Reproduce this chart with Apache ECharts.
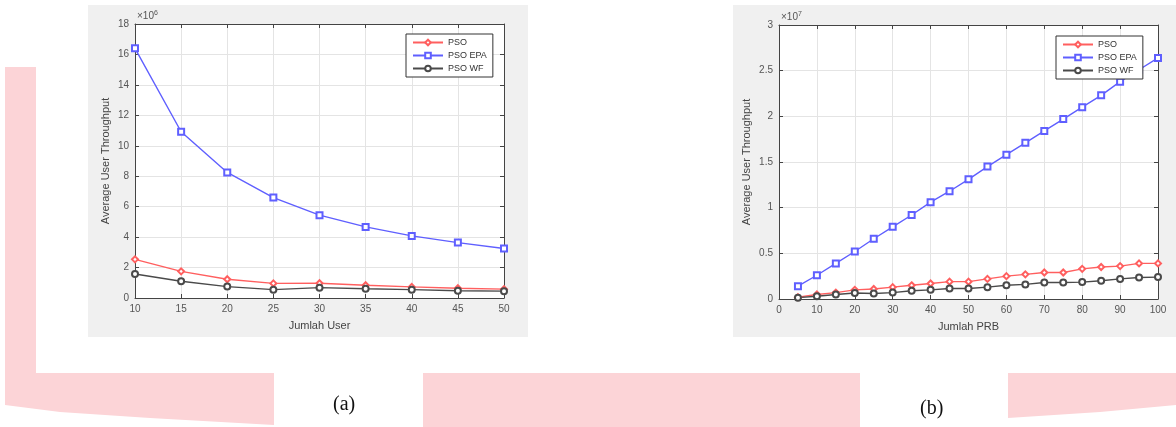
<!DOCTYPE html>
<html><head><meta charset="utf-8">
<script src="https://cdn.jsdelivr.net/npm/echarts@6/dist/echarts.min.js"></script>
<style>html,body{margin:0;padding:0;background:#fff}#c{width:1176px;height:427px}</style>
</head><body><div id="c"></div>
<script>
// Chart (a): values in units of 1e6
const usersA = [10, 15, 20, 25, 30, 35, 40, 45, 50];
const psoA = [2.54, 1.75, 1.23, 0.96, 0.97, 0.84, 0.73, 0.64, 0.58];
const epaA = [16.4, 10.92, 8.25, 6.6, 5.44, 4.67, 4.08, 3.64, 3.25];
const wfA  = [1.58, 1.1, 0.75, 0.55, 0.68, 0.61, 0.55, 0.48, 0.45];
// Chart (b): values in units of 1e7
const prbB = [5,10,15,20,25,30,35,40,45,50,55,60,65,70,75,80,85,90,95,100];
const psoB = [0.02,0.05,0.07,0.10,0.11,0.13,0.15,0.17,0.19,0.19,0.22,0.25,0.27,0.29,0.29,0.33,0.35,0.36,0.39,0.39];
const epaB = [0.14,0.26,0.39,0.52,0.66,0.79,0.92,1.06,1.18,1.31,1.45,1.58,1.71,1.84,1.97,2.10,2.23,2.38,2.51,2.64];
const wfB  = [0.015,0.03,0.05,0.065,0.06,0.07,0.09,0.10,0.115,0.115,0.13,0.15,0.16,0.18,0.18,0.185,0.20,0.22,0.235,0.24];
const seriesNames = ['PSO', 'PSO EPA', 'PSO WF'];
const yTicksA = {min: 0, max: 18, interval: 2};
const yTicksB = {min: 0, max: 3, interval: 0.5};
const xTicksA = {min: 10, max: 50, interval: 5};
const xTicksB = {min: 0, max: 100, interval: 10};

const colors = ['#ff5f5f', '#5f5fff', '#4a4a4a'];
const symbols = ['emptyDiamond', 'emptyRect', 'emptyCircle'];
const pink = '#fcd4d7';
const font = 'Liberation Sans, Arial, sans-serif';
const tickColor = '#555';

function pairs(xs, ys) { return xs.map((x, i) => [x, ys[i]]); }

const chart = echarts.init(document.getElementById('c'));

function mainX(grid, t, name) {
  return {gridIndex: grid, type: 'value', min: t.min, max: t.max, interval: t.interval,
    name: name, nameLocation: 'middle', nameGap: 22,
    nameTextStyle: {fontSize: 11, color: '#444', fontFamily: font},
    axisLine: {show: true, onZero: false, lineStyle: {color: '#444', width: 1}},
    axisTick: {show: true, inside: true, length: 4, lineStyle: {color: '#444'}},
    axisLabel: {fontSize: 10, color: tickColor, fontFamily: font, margin: 6},
    splitLine: {show: true, lineStyle: {color: '#e4e4e4', width: 1}}};
}
function topX(grid, t) {
  return {gridIndex: grid, type: 'value', position: 'top', min: t.min, max: t.max, interval: t.interval,
    axisLine: {show: true, onZero: false, lineStyle: {color: '#444', width: 1}},
    axisTick: {show: true, inside: true, length: 4, lineStyle: {color: '#444'}},
    axisLabel: {show: false}, splitLine: {show: false}};
}
function mainY(grid, t, gap) {
  return {gridIndex: grid, type: 'value', min: t.min, max: t.max, interval: t.interval,
    name: 'Average User Throughput', nameLocation: 'middle', nameGap: gap,
    nameTextStyle: {fontSize: 11, color: '#444', fontFamily: font},
    axisLine: {show: true, onZero: false, lineStyle: {color: '#444', width: 1}},
    axisTick: {show: true, inside: true, length: 4, lineStyle: {color: '#444'}},
    axisLabel: {fontSize: 10, color: tickColor, fontFamily: font, margin: 6},
    splitLine: {show: true, lineStyle: {color: '#e4e4e4', width: 1}}};
}
function rightY(grid, t) {
  return {gridIndex: grid, type: 'value', position: 'right', min: t.min, max: t.max, interval: t.interval,
    axisLine: {show: true, onZero: false, lineStyle: {color: '#444', width: 1}},
    axisTick: {show: true, inside: true, length: 4, lineStyle: {color: '#444'}},
    axisLabel: {show: false}, splitLine: {show: false}};
}
function line(name, xi, yi, data, k) {
  return {name: name, type: 'line', xAxisIndex: xi, yAxisIndex: yi, data: data,
    symbol: symbols[k], symbolSize: 6, showSymbol: true,
    lineStyle: {color: colors[k], width: 1.4},
    itemStyle: {color: colors[k], borderColor: colors[k], borderWidth: 1.3},
    animation: false, z: 2};
}
function legendAt(left, top) {
  return {left: left, top: top, orient: 'vertical', data: seriesNames, z: 20,
    itemWidth: 30, itemHeight: 7, itemGap: 4, padding: [4, 6, 4, 6],
    backgroundColor: '#fff', borderColor: '#333', borderWidth: 1, borderRadius: 0,
    textStyle: {fontSize: 9, color: '#333', fontFamily: font}, selectedMode: false};
}

const option = {
  animation: false,
  graphic: [
    // decorative background
    {type: 'rect', shape: {x: 5, y: 67, width: 31, height: 310}, style: {fill: pink}, z: -10},
    {type: 'polygon', shape: {points: [[5, 373], [274, 373], [274, 425], [150, 418], [60, 412], [5, 405]]}, style: {fill: pink}, z: -10},
    {type: 'rect', shape: {x: 423, y: 373, width: 437, height: 54}, style: {fill: pink}, z: -10},
    {type: 'polygon', shape: {points: [[1008, 373], [1176, 373], [1176, 405], [1100, 412], [1008, 418]]}, style: {fill: pink}, z: -10},
    {type: 'rect', shape: {x: 860, y: 380, width: 148, height: 47}, style: {fill: '#fff'}, z: -9},
    // figure panels
    {type: 'rect', shape: {x: 88, y: 5, width: 440, height: 332}, style: {fill: '#f0f0f0'}, z: -8},
    {type: 'rect', shape: {x: 733, y: 5, width: 443, height: 332}, style: {fill: '#f0f0f0'}, z: -8},
    // exponent labels
    {type: 'text', left: 137, top: 10, style: {text: '×10{s|6}', rich: {s: {fontSize: 7, verticalAlign: 'top', padding: [0,0,6,0], fill: '#555'}}, fontSize: 10, fill: '#555', fontFamily: font}, z: 20},
    {type: 'text', left: 781, top: 11, style: {text: '×10{s|7}', rich: {s: {fontSize: 7, verticalAlign: 'top', padding: [0,0,6,0], fill: '#555'}}, fontSize: 10, fill: '#555', fontFamily: font}, z: 20},
    // subfigure captions
    {type: 'text', left: 333, top: 395, style: {text: '(a)', fontSize: 20, fill: '#111', fontFamily: 'Liberation Serif, Times New Roman, serif'}},
    {type: 'text', left: 920, top: 399, style: {text: '(b)', fontSize: 20, fill: '#111', fontFamily: 'Liberation Serif, Times New Roman, serif'}}
  ],
  grid: [
    {left: 135, top: 24, width: 369, height: 274, show: true, backgroundColor: '#fff', borderWidth: 0},
    {left: 779, top: 25, width: 379, height: 274, show: true, backgroundColor: '#fff', borderWidth: 0}
  ],
  xAxis: [mainX(0, xTicksA, 'Jumlah User'), topX(0, xTicksA), mainX(1, xTicksB, 'Jumlah PRB'), topX(1, xTicksB)],
  yAxis: [mainY(0, yTicksA, 24), rightY(0, yTicksA), mainY(1, yTicksB, 27), rightY(1, yTicksB)],
  legend: [legendAt(406, 34), legendAt(1056, 36)],
  series: [
    line('PSO', 0, 0, pairs(usersA, psoA), 0),
    line('PSO EPA', 0, 0, pairs(usersA, epaA), 1),
    line('PSO WF', 0, 0, pairs(usersA, wfA), 2),
    line('PSO', 2, 2, pairs(prbB, psoB), 0),
    line('PSO EPA', 2, 2, pairs(prbB, epaB), 1),
    line('PSO WF', 2, 2, pairs(prbB, wfB), 2)
  ]
};
chart.setOption(option);
</script></body></html>
